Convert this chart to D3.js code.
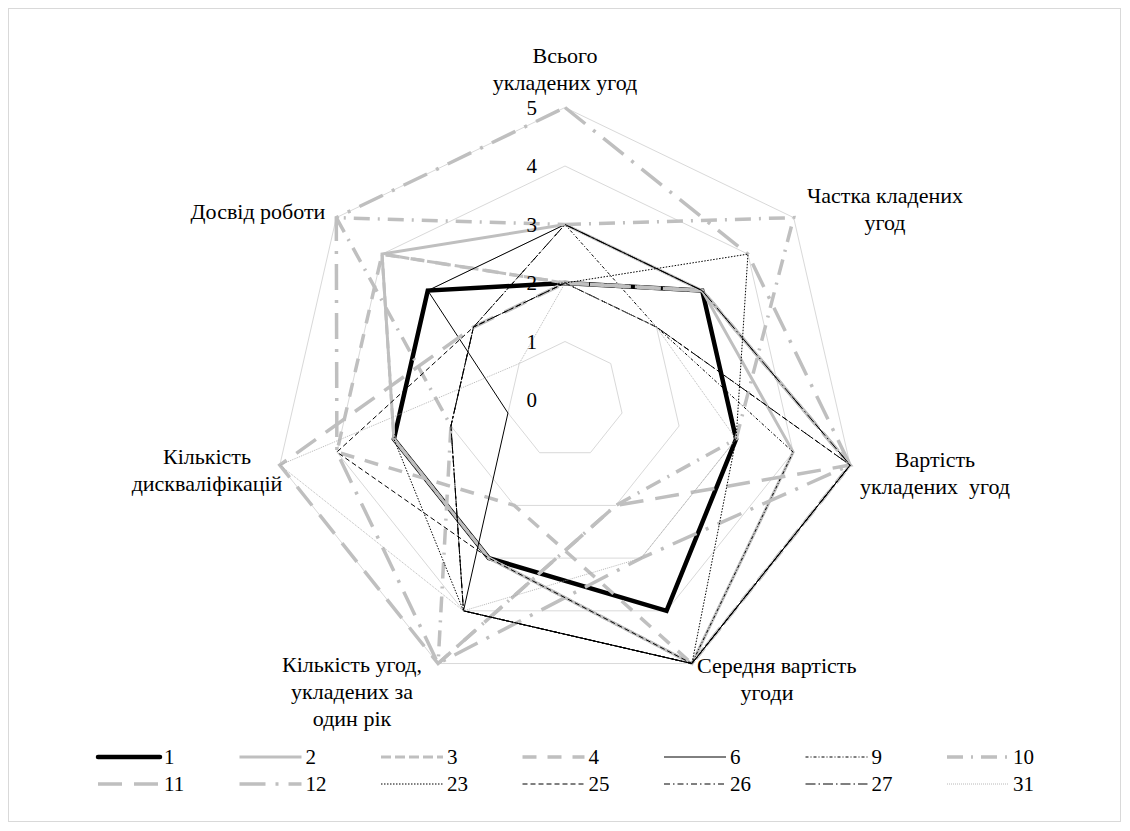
<!DOCTYPE html>
<html>
<head>
<meta charset="utf-8">
<script src="https://cdn.jsdelivr.net/npm/d3@7"></script>
<style>
  body { margin: 0; background: #fff; }
</style>
</head>
<body>
<svg id="chart" width="1130" height="831"></svg>
<script>
// axes, clockwise from the top
const axes = [
  ["Всього", "укладених угод"],
  ["Частка кладених", "угод"],
  ["Вартість", "укладених  угод"],
  ["Середня вартість", "угоди"],
  ["Кількість угод,", "укладених за", "один рік"],
  ["Кількість", "дискваліфікацій"],
  ["Досвід роботи"]
];
const ticks = [0, 1, 2, 3, 4, 5];

const names = ["1", "2", "3", "4", "6", "9", "10", "11", "12", "23", "25", "26", "27", "31"];
const s1  = [2, 3, 3, 4, 3, 3, 3];
const s2  = [3, 3, 4, 5, 3, 3, 4];
const s3  = [2, 3, 5, 5, 3, 3, 4];
const s4  = [2, 3, 5, 5, 2, 4, 4];
const s6  = [3, 3, 5, 5, 4, 1, 3];
const s9  = [3, 2, 4, 5, 4, 2, 2];
const s10 = [3, 5, 3, 2, 5, 2, 5];
const s11 = [2, 3, 5, 2, 5, 5, 2];
const s12 = [5, 4, 5, 3, 5, 4, 5];
const s23 = [2, 4, 3, 5, 4, 3, 3];
const s25 = [2, 2, 5, 5, 3, 4, 2];
const s26 = [2, 2, 5, 5, 4, 2, 2];
const s27 = [3, 3, 5, 5, 4, 2, 2];
const s31 = [2, 2, 3, 3, 4, 5, 1];
const values = [s1, s2, s3, s4, s6, s9, s10, s11, s12, s23, s25, s26, s27, s31];

// line styles per series (same order as names)
const grey = "#bfbfbf";
const styles = [
  { c: "#000", w: 4.5, d: null },
  { c: grey, w: 3, d: null },
  { c: grey, w: 3, d: "10,4" },
  { c: grey, w: 3.5, d: "14,11" },
  { c: "#000", w: 1, d: null },
  { c: "#000", w: 1, d: "3,2,1,2" },
  { c: grey, w: 3.5, d: "16,8,2,8" },
  { c: grey, w: 3.5, d: "24,12" },
  { c: grey, w: 3.5, d: "26,10,3,10" },
  { c: "#000", w: 1, d: "1.5,1.5" },
  { c: "#000", w: 1, d: "5,3" },
  { c: "#000", w: 1, d: "6,3,1.5,3" },
  { c: "#000", w: 1, d: "10,3,1.5,3" },
  { c: "#a6a6a6", w: 0.8, d: "1,1" }
];

const font = "'Liberation Serif', 'Times New Roman', 'DejaVu Serif', serif";
const fs = 22;

const svg = d3.select("#chart");
const cx = 565, cy = 400;

svg.append("rect")
  .attr("x", 8.5).attr("y", 8.5)
  .attr("width", 1112).attr("height", 813)
  .attr("fill", "none").attr("stroke", "#d9d9d9");

const r = d3.scaleLinear().domain([0, 5]).range([0, 292.5]);
const angle = d3.scalePoint().domain(d3.range(axes.length + 1)).range([0, 2 * Math.PI]);

const g = svg.append("g").attr("transform", `translate(${cx},${cy})`);

// grid rings
const ring = d3.lineRadial()
  .angle((d, i) => angle(i))
  .radius(d => r(d))
  .curve(d3.curveLinearClosed);

g.append("g").selectAll("path")
  .data(ticks.filter(t => t > 0))
  .join("path")
  .attr("d", t => ring(axes.map(() => t)))
  .attr("fill", "none")
  .attr("stroke", "#d9d9d9")
  .attr("stroke-width", 1);

// series
g.append("g").selectAll("path")
  .data(values)
  .join("path")
  .attr("d", d => ring(d))
  .attr("fill", "none")
  .attr("stroke", (d, i) => styles[i].c)
  .attr("stroke-width", (d, i) => styles[i].w)
  .attr("stroke-dasharray", (d, i) => styles[i].d)
  .attr("stroke-linejoin", "miter");

// tick labels
g.append("g").selectAll("text")
  .data(ticks)
  .join("text")
  .attr("x", -28)
  .attr("y", t => -r(t))
  .attr("dy", "0.35em")
  .attr("text-anchor", "end")
  .attr("font-family", font)
  .attr("font-size", 21)
  .text(t => t);

// axis labels
const labelPos = [
  { x: 565, y: 63 },
  { x: 885, y: 203 },
  { x: 935, y: 467 },
  { x: 697, y: 673, lines: [697, 767] },
  { x: 352, y: 672 },
  { x: 207, y: 464 },
  { x: 258, y: 219 }
];
const lab = svg.append("g");
axes.forEach((lines, i) => {
  const p = labelPos[i];
  lines.forEach((t, j) => {
    lab.append("text")
      .attr("x", p.lines ? p.lines[j] : p.x)
      .attr("y", p.y + j * 27)
      .attr("text-anchor", p.lines && j === 0 ? "start" : "middle")
      .attr("font-family", font)
      .attr("font-size", fs)
      .style("white-space", "pre")
      .text(t);
  });
});

// legend
const leg = svg.append("g");
const item = leg.selectAll("g")
  .data(names)
  .join("g")
  .attr("transform", (d, i) => `translate(${98 + (i % 7) * 141.5},${i < 7 ? 757 : 784})`);

item.append("line")
  .attr("x1", 0).attr("x2", 62)
  .attr("stroke", (d, i) => styles[i].c)
  .attr("stroke-width", (d, i) => styles[i].w)
  .attr("stroke-dasharray", (d, i) => styles[i].d)
  .attr("stroke-linecap", (d, i) => i === 0 ? "round" : "butt");

item.append("text")
  .attr("x", 66)
  .attr("dy", "0.35em")
  .attr("font-family", font)
  .attr("font-size", 21)
  .text(d => d);
</script>
</body>
</html>
